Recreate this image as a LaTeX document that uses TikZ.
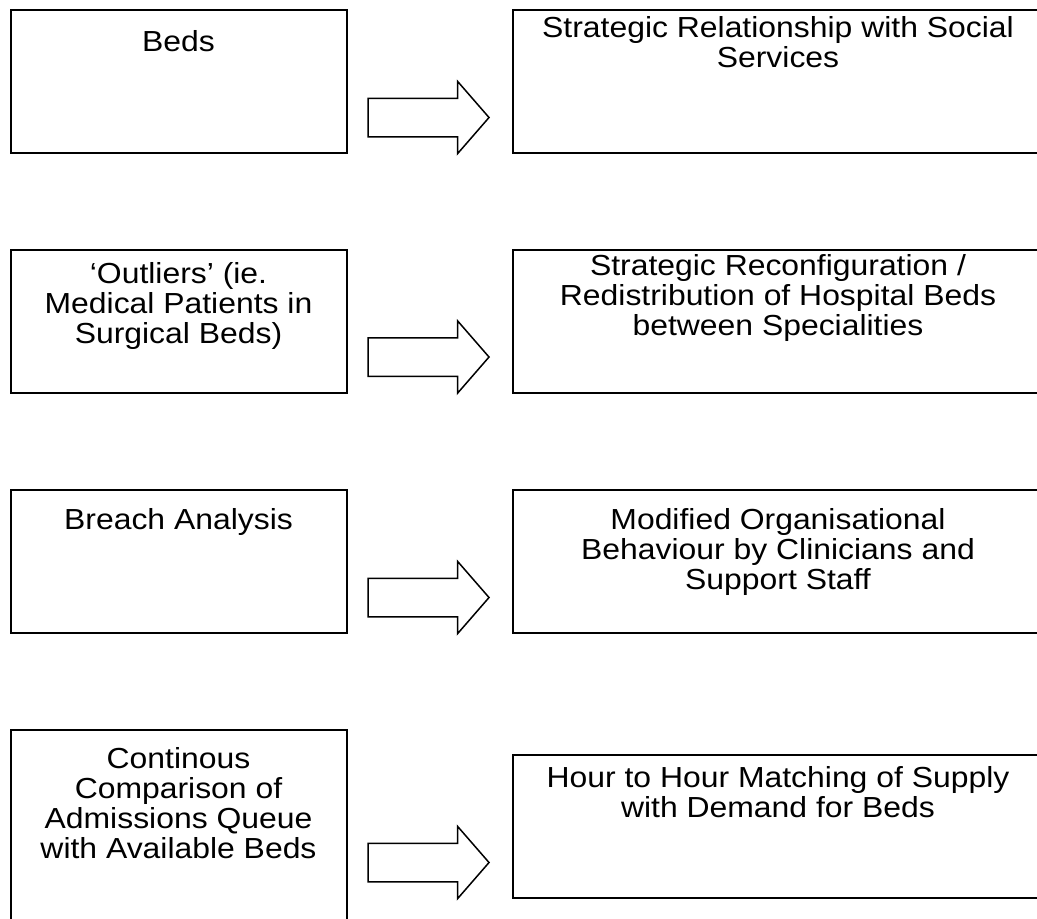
\documentclass[tikz,border=0pt]{standalone}
\usepackage{fontspec}
\setmainfont{Liberation Sans}[FakeStretch=1.1]
\usetikzlibrary{shapes.arrows,positioning,calc}
\newcommand{\PlanBoxFont}{\fontsize{14.5pt}{15pt}\selectfont}

\begin{document}
\begin{tikzpicture}[x=0.5pt,y=-0.5pt]
  \tikzset{
    plan box/.style={draw=black, line width=1pt, inner sep=0pt,
      minimum width=168pt, minimum height=71.5pt},
    effect box/.style={plan box, minimum width=265pt},
    plan text/.style={font=\PlanBoxFont, align=center, anchor=north,
      inner sep=0pt},
    plan arrow/.style={draw=black, line width=0.75pt, single arrow,
      single arrow head extend=8.5pt, single arrow tip angle=98,
      minimum height=60.5pt, inner xsep=0pt, inner ysep=9.25pt,
      anchor=tip}
  }
  \useasboundingbox (0,0) rectangle (1037,918);
  \clip (0,0) rectangle (1037,918);

  % causes on the left
  \node[plan box] (cause-1) at (178.5,81.5) {};
  \node[plan box] (cause-2) at (178.5,321) {};
  \node[plan box] (cause-3) at (178.5,561.5) {};
  \node[plan box, minimum height=100pt] (cause-4) at (178.5,830) {};

  % effects on the right
  \node[effect box] (effect-1) at (778,81.5) {};
  \node[effect box] (effect-2) at (778,321) {};
  \node[effect box] (effect-3) at (778,561.5) {};
  \node[effect box] (effect-4) at (778,826.5) {};

  \node[plan text, below=10.5pt of cause-1.north] (cause-1-text) {Beds};
  \node[plan text, below=7pt of cause-2.north] (cause-2-text)
    {‘Outliers’ (ie.\\Medical Patients in\\Surgical Beds)};
  \node[plan text, below=9.5pt of cause-3.north] (cause-3-text) {Breach Analysis};
  \node[plan text, below=9pt of cause-4.north] (cause-4-text)
    {Continous\\Comparison of\\Admissions Queue\\with Available Beds};

  \node[plan text, below=3.5pt of effect-1.north] (effect-1-text)
    {Strategic Relationship with Social\\Services};
  \node[plan text, below=3pt of effect-2.north] (effect-2-text)
    {Strategic Reconfiguration /\\Redistribution of Hospital Beds\\between Specialities};
  \node[plan text, below=9.5pt of effect-3.north] (effect-3-text)
    {Modified Organisational\\Behaviour by Clinicians and\\Support Staff};
  \node[plan text, below=6pt of effect-4.north] (effect-4-text)
    {Hour to Hour Matching of Supply\\with Demand for Beds};

  \foreach \row in {1,...,4} {
    \node[plan arrow] (shift-\row) at ([xshift=-11pt,yshift=-18pt]effect-\row.west) {};
  }
\end{tikzpicture}
\end{document}
